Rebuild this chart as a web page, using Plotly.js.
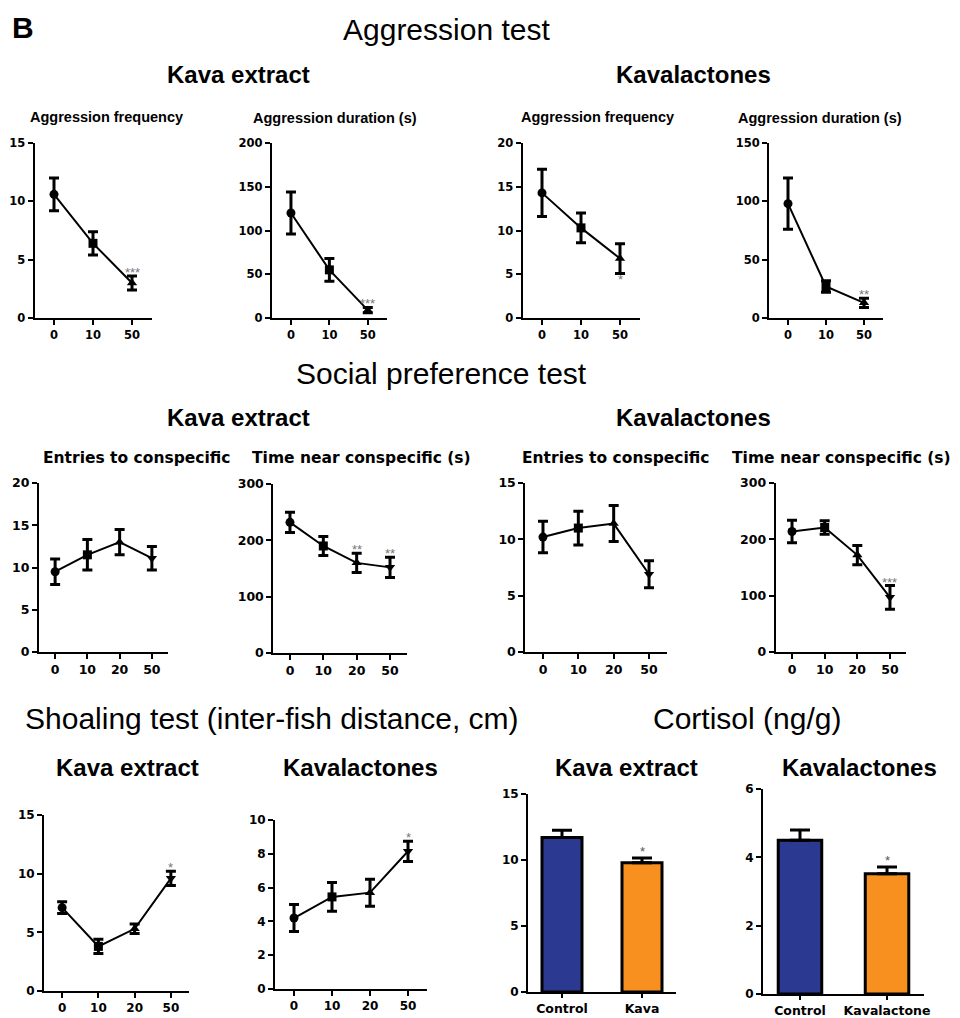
<!DOCTYPE html>
<html>
<head>
<meta charset="utf-8">
<script src="https://cdn.plot.ly/plotly-3.0.1.min.js"></script>
<style>html,body{margin:0;padding:0;background:#fff}#chart{width:960px;height:1018px}</style>
</head>
<body>
<div id="chart"></div>
<script>
// ---------- DATA ----------
const doses3 = ['0', '10', '50'];
const doses4 = ['0', '10', '20', '50'];
const cortisolKavaCats = ['Control', 'Kava'];
const cortisolKlCats = ['Control', 'Kavalactone'];

// Aggression test - Kava extract
const kavaAggFreq = [10.6, 6.4, 3.0];
const kavaAggFreqErr = [1.4, 1.0, 0.6];
const kavaAggFreqSig = ['', '', '***'];
const kavaAggDur = [120, 55, 9];
const kavaAggDurErr = [24, 13, 3];
const kavaAggDurSig = ['', '', '***'];
// Aggression test - Kavalactones
const klAggFreq = [14.3, 10.3, 6.8];
const klAggFreqErr = [2.7, 1.7, 1.7];
const klAggFreqSig = ['', '', '*'];
const klAggDur = [98, 27, 13];
const klAggDurErr = [22, 5, 4];
const klAggDurSig = ['', '', '**'];

// Social preference - Kava extract
const kavaEntries = [9.5, 11.5, 13.0, 11.1];
const kavaEntriesErr = [1.5, 1.8, 1.5, 1.4];
const kavaEntriesSig = ['', '', '', ''];
const kavaTime = [232, 190, 160, 152];
const kavaTimeErr = [18, 17, 17, 18];
const kavaTimeSig = ['', '', '**', '**'];
// Social preference - Kavalactones
const klEntries = [10.2, 11.0, 11.4, 6.9];
const klEntriesErr = [1.4, 1.5, 1.6, 1.2];
const klEntriesSig = ['', '', '', ''];
const klTime = [214, 221, 172, 97];
const klTimeErr = [20, 12, 17, 21];
const klTimeSig = ['', '', '', '***'];

// Shoaling
const kavaShoal = [7.1, 3.8, 5.3, 9.6];
const kavaShoalErr = [0.5, 0.6, 0.4, 0.6];
const kavaShoalSig = ['', '', '', '*'];
const klShoal = [4.2, 5.45, 5.7, 8.15];
const klShoalErr = [0.8, 0.85, 0.8, 0.6];
const klShoalSig = ['', '', '', '*'];

// Cortisol
const kavaCortisol = [11.7, 9.8];
const kavaCortisolErr = [0.55, 0.35];
const kavaCortisolSig = ['', '*'];
const klCortisol = [4.5, 3.52];
const klCortisolErr = [0.3, 0.2];
const klCortisolSig = ['', '*'];

// ---------- LAYOUT HELPERS ----------
const W = 960, H = 1018;
const FONT = 'Liberation Sans, Arial, Helvetica, sans-serif';
const TICKFONT = 'DejaVu Sans, Liberation Sans, Arial, sans-serif';
const symbols = ['circle', 'square', 'triangle-up', 'triangle-down'];
const traces = [];
const layout = {
  width: W, height: H,
  margin: {l: 0, r: 0, t: 0, b: 0},
  paper_bgcolor: '#fff', plot_bgcolor: '#fff',
  showlegend: false,
  font: {family: FONT, color: '#000'},
  annotations: []
};
function fx(px) { return px / W; }
function fy(py) { return 1 - py / H; }

function axes(i, x0, x1, yTop, yBot, xRange, yMax, dtick, fs, xfs) {
  const sfx = i === 1 ? '' : String(i);
  const yticks = [];
  for (let v = 0; v <= yMax + 1e-9; v += dtick) yticks.push(v);
  layout['xaxis' + sfx] = {
    domain: [fx(x0), fx(x1)], anchor: 'y' + sfx, type: 'category', range: xRange,
    showline: true, linewidth: 2, linecolor: '#000', mirror: false,
    ticks: 'outside', ticklen: 5, tickwidth: 2, tickcolor: '#000',
    showgrid: false, zeroline: false, fixedrange: true,
    tickfont: {family: TICKFONT, size: xfs || fs, color: '#000', weight: 'bold'}
  };
  layout['yaxis' + sfx] = {
    domain: [fy(yBot), fy(yTop)], anchor: 'x' + sfx, range: [0, yMax],
    tickvals: yticks, ticktext: yticks.map(String),
    showline: true, linewidth: 2, linecolor: '#000',
    ticks: 'outside', ticklen: 5, tickwidth: 2, tickcolor: '#000',
    showgrid: false, zeroline: false, fixedrange: true,
    tickfont: {family: TICKFONT, size: fs, color: '#000', weight: 'bold'}
  };
  return sfx;
}

function linePanel(i, cats, vals, errs, sig, x0, x1, yTop, yBot, yMax, dtick, fs, sigBelow) {
  const sfx = axes(i, x0, x1, yTop, yBot, [-0.5, cats.length - 0.5], yMax, dtick, fs);
  traces.push({
    type: 'scatter', mode: 'lines+markers', x: cats, y: vals,
    xaxis: 'x' + sfx, yaxis: 'y' + sfx, cliponaxis: false,
    line: {color: '#000', width: 2},
    marker: {color: '#000', size: 9, symbol: symbols.slice(0, cats.length)},
    error_y: {type: 'data', array: errs, visible: true, color: '#000', thickness: 3, width: 5}
  });
  cats.forEach((c, k) => {
    if (!sig[k]) return;
    layout.annotations.push({
      xref: 'x' + sfx, yref: 'y' + sfx, x: k,
      y: sigBelow ? vals[k] - errs[k] : vals[k] + errs[k],
      yanchor: sigBelow ? 'top' : 'bottom', yshift: sigBelow ? 3 : -6,
      text: sig[k], showarrow: false,
      font: {family: FONT, size: 13, color: '#777'}
    });
  });
}

function barPanel(i, cats, vals, errs, sig, x0, x1, yTop, yBot, yMax, dtick, fs, xfs) {
  const sfx = axes(i, x0, x1, yTop, yBot, [-0.425, 1.425], yMax, dtick, fs, xfs);
  layout['xaxis' + sfx].ticklen = 4;
  traces.push({
    type: 'bar', x: cats, y: vals, width: 0.5,
    xaxis: 'x' + sfx, yaxis: 'y' + sfx,
    marker: {color: ['#2b3990', '#f7901e'], line: {color: '#000', width: 3}},
    error_y: {type: 'data', symmetric: false, array: errs, arrayminus: errs.map(() => 0),
              visible: true, color: '#000', thickness: 3, width: 10}
  });
  cats.forEach((c, k) => {
    if (!sig[k]) return;
    layout.annotations.push({
      xref: 'x' + sfx, yref: 'y' + sfx, x: k, y: vals[k] + errs[k],
      yanchor: 'bottom', yshift: -3, text: sig[k], showarrow: false,
      font: {family: FONT, size: 13, color: '#555'}
    });
  });
}

function text(str, cx, cy, size, bold, anchor, family) {
  layout.annotations.push({
    xref: 'paper', yref: 'paper', x: fx(cx), y: fy(cy),
    xanchor: anchor || 'center', yanchor: 'middle', showarrow: false,
    text: bold ? '<b>' + str + '</b>' : str,
    font: {family: family || FONT, size: size, color: '#000'}
  });
}

// ---------- PANELS ----------
// Row 1: Aggression test
linePanel(1, doses3, kavaAggFreq, kavaAggFreqErr, kavaAggFreqSig, 34.5, 151.5, 143, 318, 15, 5, 11.5);
linePanel(2, doses3, kavaAggDur, kavaAggDurErr, kavaAggDurSig, 271.75, 387, 143, 318, 200, 50, 11.5);
linePanel(3, doses3, klAggFreq, klAggFreqErr, klAggFreqSig, 522.5, 639.5, 143, 318, 20, 5, 11.5, true);
linePanel(4, doses3, klAggDur, klAggDurErr, klAggDurSig, 769, 883, 143, 318, 150, 50, 11.5);
// Row 2: Social preference
linePanel(5, doses4, kavaEntries, kavaEntriesErr, kavaEntriesSig, 39, 168, 483, 652, 20, 5, 12.5);
linePanel(6, doses4, kavaTime, kavaTimeErr, kavaTimeSig, 273.3, 406.7, 484, 653, 300, 100, 12.5);
linePanel(7, doses4, klEntries, klEntriesErr, klEntriesSig, 525.3, 666.7, 483, 652, 15, 5, 12.5);
linePanel(8, doses4, klTime, klTimeErr, klTimeSig, 775.7, 906.3, 483, 652, 300, 100, 12.5);
// Row 3: Shoaling + Cortisol
linePanel(9, doses4, kavaShoal, kavaShoalErr, kavaShoalSig, 44, 189, 815, 991, 15, 5, 12);
linePanel(10, doses4, klShoal, klShoalErr, klShoalSig, 275, 427, 820, 989, 10, 2, 12);
barPanel(11, cortisolKavaCats, kavaCortisol, kavaCortisolErr, kavaCortisolSig, 528, 676, 794, 992, 15, 5, 12, 12.5);
barPanel(12, cortisolKlCats, klCortisol, klCortisolErr, klCortisolSig, 763, 924, 789, 994, 6, 2, 12, 12.5);

// ---------- TEXT ----------
text('B', 10, 28, 30, true, 'left');
text('Aggression test', 446, 30, 30, false);
text('Kava extract', 238, 75, 24, true);
text('Kavalactones', 693, 75, 24, true);
text('Aggression frequency', 106, 117, 14.5, true);
text('Aggression duration (s)', 335, 118, 14.5, true);
text('Aggression frequency', 597, 117, 14.5, true);
text('Aggression duration (s)', 820, 118, 14.5, true);

text('Social preference test', 441, 373, 30, false);
text('Kava extract', 238, 417, 24, true);
text('Kavalactones', 693, 417, 24, true);
text('Entries to conspecific', 136, 458, 15.5, true, 'center', TICKFONT);
text('Time near conspecific (s)', 361, 458, 15.5, true, 'center', TICKFONT);
text('Entries to conspecific', 615, 458, 15.5, true, 'center', TICKFONT);
text('Time near conspecific (s)', 841, 458, 15.5, true, 'center', TICKFONT);

text('Shoaling test (inter-fish distance, cm)', 272, 718, 30, false);
text('Cortisol (ng/g)', 747, 718, 30, false);
text('Kava extract', 127, 767, 24, true);
text('Kavalactones', 360, 767, 24, true);
text('Kava extract', 626, 767, 24, true);
text('Kavalactones', 859, 767, 24, true);

Plotly.newPlot('chart', traces, layout, {staticPlot: true, displayModeBar: false});
</script>
</body>
</html>
